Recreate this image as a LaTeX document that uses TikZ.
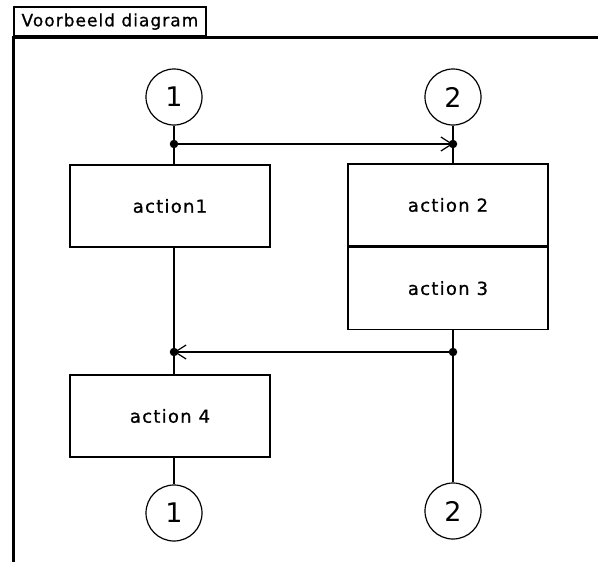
\documentclass[tikz,border=0pt]{standalone}
\usepackage{fontspec}
\setmainfont{DejaVu Sans}
\usetikzlibrary{positioning,arrows.meta}

\tikzset{
  actbox/.style={draw, line width=1.2pt, minimum width=200pt, minimum height=82pt,
    inner sep=0pt, font=\fontsize{18}{21}\selectfont\addfontfeature{LetterSpace=7,FakeBold=0.8}},
  conn/.style={draw, circle, line width=1.2pt, minimum size=56pt, inner sep=0pt,
    font=\fontsize{27}{30}\selectfont},
  flow/.style={line width=1.2pt},
  jump/.style={line width=2pt, -{Straight Barb[length=11pt, width=14pt, line width=1.2pt]}},
  jdot/.style={circle, fill, inner sep=0pt, minimum size=8.5pt}
}

\begin{document}
\begin{tikzpicture}[x=1pt, y=-1pt]
  \useasboundingbox (0,0) rectangle (598,562);
  % frame with title tab
  \draw[line width=3pt] (13,562) -- (13,37) -- (598,37);
  \node[draw, line width=1.8pt, anchor=south west, minimum width=192pt, minimum height=29pt,
    inner sep=2pt, font=\fontsize{17}{20}\selectfont\addfontfeature{LetterSpace=6,FakeBold=0.8}]
    (title) at (13,37) {Voorbeeld diagram};

  % connectors on top
  \node[conn] (c1t) at (174,97) {1};
  \node[conn] (c2t) at (453,97) {2};

  % actions
  \node[actbox] (a1) at (170,206) {action1};
  \node[actbox] (a2) at (448,205) {action 2};
  \node[actbox, below=0pt of a2] (a3) {action 3};
  \node[actbox] (a4) at (170,416) {action 4};

  % connectors at the bottom
  \node[conn] (c1b) at (174,513) {1};
  \node[conn] (c2b) at (453,511) {2};

  % junctions
  \node[jdot] (j1) at (174,144) {};
  \node[jdot] (j2) at (453,144) {};
  \node[jdot] (j3) at (174,352) {};
  \node[jdot] (j4) at (453,352) {};

  % left column
  \draw[flow] (c1t) -- (j1.center) -- (j1 |- a1.north);
  \draw[flow] (j3 |- a1.south) -- (j3.center) -- (j3 |- a4.north);
  \draw[flow] (c1b |- a4.south) -- (c1b);
  % right column
  \draw[flow] (c2t) -- (j2.center) -- (j2 |- a2.north);
  \draw[flow] (j4 |- a3.south) -- (j4.center) -- (c2b);
  % jumps
  \draw[jump] (j1.center) -- (j2.center);
  \draw[jump] (j4.center) -- (j3.center);
\end{tikzpicture}
\end{document}
